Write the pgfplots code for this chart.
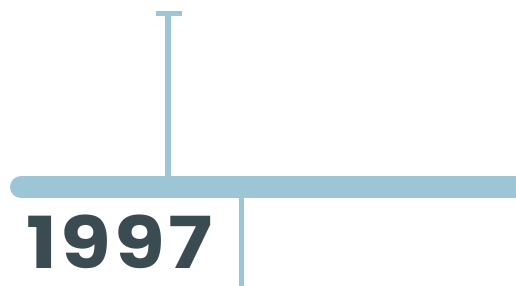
\documentclass[border=0pt]{standalone}
\usepackage{graphicx}
\usepackage{pgfplots}
\pgfplotsset{compat=1.18}
\usepackage{fontspec}
\newfontfamily\pop{Poppins}
\definecolor{barblue}{HTML}{9CC6D6}
\definecolor{slate}{HTML}{3A4C51}
\begin{document}
\begin{tikzpicture}
\begin{axis}[
  x=1bp, y=1bp, scale only axis,
  xmin=0, xmax=516, ymin=0, ymax=285,
  hide axis, clip=true,
]
\path (rel axis cs:0,0) rectangle (rel axis cs:1,1);
% main bar
\addplot[barblue, line width=22bp, line cap=round] coordinates {(21,98) (540,98)};
% upper stem
\addplot[barblue, line width=6bp] coordinates {(168,109) (168,270)};
% cap
\addplot[barblue, line width=5bp] coordinates {(156,271) (182,271)};
% lower stem
\addplot[barblue, line width=5bp] coordinates {(241.5,-5) (241.5,87)};
\node[anchor=base west, inner sep=0pt, text=slate, font=\pop\bfseries\fontsize{72}{72}\selectfont] at (axis cs:26,17) {\scalebox{1.15}[1]{1\hspace{3bp}9\hspace{3bp}9\hspace{3bp}7}};
\end{axis}
\end{tikzpicture}
\end{document}
